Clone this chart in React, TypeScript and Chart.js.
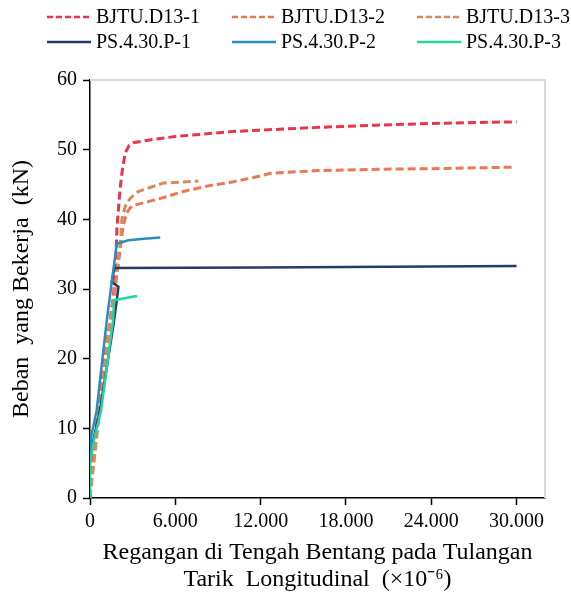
import { useEffect, useRef } from 'react';
import { Chart, registerables } from 'chart.js';

Chart.register(...registerables);

const SERIES_NAMES = ['BJTU.D13-1', 'BJTU.D13-2', 'BJTU.D13-3', 'PS.4.30.P-1', 'PS.4.30.P-2', 'PS.4.30.P-3'];

const BJTU_D13_1: [number, number][] = [
  [0, 0], [120, 4], [300, 8], [590, 12.6], [1000, 19.5], [1410, 25.5], [1650, 29], [1800, 33],
  [1900, 39], [2100, 44], [2240, 46.6], [2470, 49.5], [2750, 50.6], [3050, 51], [4200, 51.4],
  [6000, 51.9], [7800, 52.2], [10000, 52.6], [13000, 52.9], [16000, 53.2], [20000, 53.5],
  [23000, 53.7], [27000, 53.9], [30000, 54],
];
const BJTU_D13_2: [number, number][] = [
  [0, 0], [200, 4], [600, 12], [1050, 19.5], [1420, 25.5], [1700, 29], [1950, 33], [2200, 37],
  [2330, 39], [2550, 40.8], [2800, 41.6], [3040, 42], [4020, 42.5], [5300, 43.2], [6560, 44],
  [8300, 44.8], [10100, 45.4], [11500, 46], [12700, 46.6], [16000, 47], [20700, 47.2],
  [25000, 47.3], [29900, 47.5],
];
const BJTU_D13_3: [number, number][] = [
  [0, 0], [100, 2.5], [300, 5.5], [700, 13], [1100, 20], [1400, 25.5], [1680, 29], [1950, 33],
  [2150, 37], [2240, 40], [2500, 42], [2820, 43], [3390, 44], [5150, 45.2], [7620, 45.5],
];
const PS_P1: [number, number][] = [
  [0, 5], [120, 7.2], [700, 12.6], [1200, 19], [1645, 24.8], [1885, 28.4], [2000, 30.3],
  [1530, 31], [1715, 33], [12000, 33.1], [30000, 33.3],
];
const PS_P2: [number, number][] = [
  [0, 6], [100, 9], [470, 12.6], [820, 19], [1180, 25.5], [1530, 31], [1885, 36.5],
  [2700, 37], [3800, 37.2], [4940, 37.4],
];
const PS_P3: [number, number][] = [
  [0, 0], [0, 5], [300, 8.5], [780, 12.6], [1200, 19], [1620, 25.5], [1700, 28.4], [3300, 29],
];

const SERIES_DATA = [BJTU_D13_1, BJTU_D13_2, BJTU_D13_3, PS_P1, PS_P2, PS_P3];
const SERIES_COLORS = ['#E9344A', '#EC7753', '#D98A5A', '#243A67', '#2B8CC0', '#22D6A0'];
const SERIES_DASHED = [true, true, true, false, false, false];

const X_TICKS = [0, 6000, 12000, 18000, 24000, 30000];
const X_TICK_LABELS = ['0', '6.000', '12.000', '18.000', '24.000', '30.000'];
const Y_TICKS = [0, 10, 20, 30, 40, 50, 60];

const X_TITLE = ['Regangan di Tengah Bentang pada Tulangan', 'Tarik  Longitudinal  (×10⁻⁶)'];
const Y_TITLE = 'Beban  yang Bekerja  (kN)';

const FONT = '"Liberation Serif", "Times New Roman", serif';

const framePlugin = {
  id: 'frame',
  beforeDatasetsDraw(chart: any) {
    const { ctx, chartArea } = chart;
    ctx.save();
    ctx.strokeStyle = '#D9D9D9';
    ctx.lineWidth = 2;
    ctx.beginPath();
    ctx.moveTo(chartArea.left, chartArea.top);
    ctx.lineTo(chartArea.right, chartArea.top);
    ctx.lineTo(chartArea.right, chartArea.bottom);
    ctx.stroke();
    ctx.restore();
  },
};

const legendPlugin = {
  id: 'gridLegend',
  afterDraw(chart: any) {
    const { ctx } = chart;
    const colX = [47, 232, 417];
    const rowY = [17, 42];
    ctx.save();
    chart.data.datasets.forEach((ds: any, i: number) => {
      const x0 = colX[i % 3];
      const y = rowY[Math.floor(i / 3)];
      ctx.strokeStyle = ds.borderColor;
      ctx.lineWidth = 2.5;
      ctx.setLineDash(SERIES_DASHED[i] ? [6, 3] : []);
      ctx.beginPath();
      ctx.moveTo(x0, y);
      ctx.lineTo(x0 + 44, y);
      ctx.stroke();
      ctx.setLineDash([]);
      ctx.fillStyle = '#000';
      ctx.font = `20px ${FONT}`;
      ctx.textBaseline = 'middle';
      ctx.textAlign = 'left';
      ctx.fillText(ds.label, x0 + 49, y + 1);
    });
    ctx.restore();
  },
};

export default function App() {
  const ref = useRef<HTMLCanvasElement>(null);
  useEffect(() => {
    const datasets = SERIES_NAMES.map((name, i) => ({
      label: name,
      data: SERIES_DATA[i].map(([x, y]) => ({ x, y })),
      showLine: true,
      borderColor: SERIES_COLORS[i],
      backgroundColor: SERIES_COLORS[i],
      borderWidth: SERIES_DASHED[i] ? 3 : 2.5,
      borderDash: SERIES_DASHED[i] ? [8, 4] : [],
      pointRadius: 0,
      tension: 0,
      order: SERIES_NAMES.length - i,
    }));
    const chart = new Chart(ref.current!, {
      type: 'scatter',
      data: { datasets },
      options: {
        responsive: false,
        animation: false,
        layout: { padding: { top: 80, right: 26, left: 0, bottom: 0 } },
        plugins: { legend: { display: false }, tooltip: { enabled: false } },
        scales: {
          x: {
            type: 'linear',
            min: 0,
            max: 32000,
            afterBuildTicks: (s: any) => {
              s.ticks = X_TICKS.map((v) => ({ value: v }));
            },
            afterFit: (s: any) => {
              s.height = 96;
            },
            ticks: {
              callback: (v: any) => {
                const idx = X_TICKS.indexOf(Number(v));
                return idx >= 0 ? X_TICK_LABELS[idx] : '';
              },
              font: { family: FONT, size: 20 },
              color: '#000',
              padding: 5,
              maxRotation: 0,
              autoSkip: false,
            },
            grid: { display: true, drawOnChartArea: false, tickLength: 7, tickColor: '#000', tickWidth: 1.5 },
            border: { color: '#000', width: 1.5 },
            title: {
              display: true,
              text: X_TITLE,
              font: { family: FONT, size: 24, lineHeight: 1.125 },
              color: '#000',
              padding: { top: 0, bottom: 1 },
            },
          },
          y: {
            type: 'linear',
            min: 0,
            max: 60,
            afterBuildTicks: (s: any) => {
              s.ticks = Y_TICKS.map((v) => ({ value: v }));
            },
            afterFit: (s: any) => {
              s.width = 90;
            },
            ticks: {
              font: { family: FONT, size: 20 },
              color: '#000',
              padding: 6,
              autoSkip: false,
            },
            grid: { display: true, drawOnChartArea: false, tickLength: 7, tickColor: '#000', tickWidth: 1.5 },
            border: { color: '#000', width: 1.5 },
            title: {
              display: true,
              text: Y_TITLE,
              font: { family: FONT, size: 24, lineHeight: 1.125 },
              color: '#000',
              padding: { top: 8, bottom: 0 },
            },
          },
        },
      },
      plugins: [framePlugin, legendPlugin],
    });
    return () => chart.destroy();
  }, []);
  return (
    <div style={{ position: 'absolute', left: 0, top: 0, width: 571, height: 594, background: '#fff' }}>
      <canvas ref={ref} width={571} height={594} style={{ display: 'block' }} />
    </div>
  );
}
